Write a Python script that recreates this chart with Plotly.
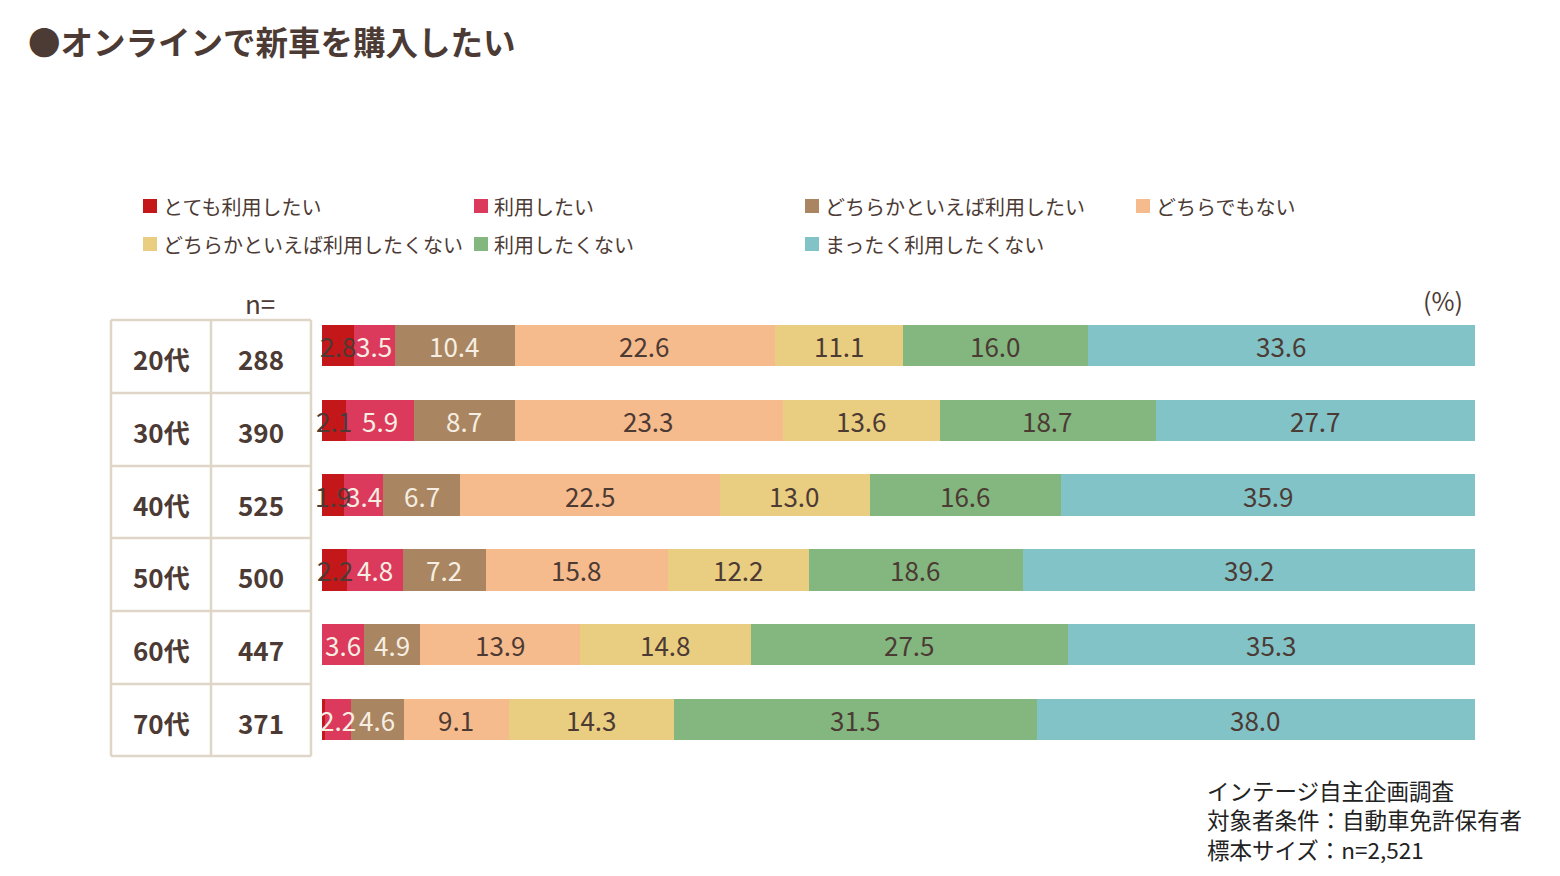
import plotly.graph_objects as go

# ---------------- data ----------------
ages = ["20代", "30代", "40代", "50代", "60代", "70代"]
n_sizes = [288, 390, 525, 500, 447, 371]
series_names = [
    "とても利用したい",
    "利用したい",
    "どちらかといえば利用したい",
    "どちらでもない",
    "どちらかといえば利用したくない",
    "利用したくない",
    "まったく利用したくない",
]
very_use = [2.8, 2.1, 1.9, 2.2, 0.0, 0.3]
use = [3.5, 5.9, 3.4, 4.8, 3.6, 2.2]
rather_use = [10.4, 8.7, 6.7, 7.2, 4.9, 4.6]
neither = [22.6, 23.3, 22.5, 15.8, 13.9, 9.1]
rather_not = [11.1, 13.6, 13.0, 12.2, 14.8, 14.3]
not_use = [16.0, 18.7, 16.6, 18.6, 27.5, 31.5]
never_use = [33.6, 27.7, 35.9, 39.2, 35.3, 38.0]
series_values = [very_use, use, rather_use, neither, rather_not, not_use, never_use]

title_text = "●オンラインで新車を購入したい"
footer_lines = ["インテージ自主企画調査", "対象者条件：自動車免許保有者", "標本サイズ：n=2,521"]

# ---------------- style ----------------
colors = ["#c3171a", "#db3a5c", "#a98661", "#f6bb8d", "#e9cd80", "#83b77f", "#82c3c7"]
DARK = "#4c3a34"
LIGHT = "#f6eee2"
label_colors = [DARK, LIGHT, LIGHT, DARK, DARK, DARK, DARK]
FONT = "Noto Sans CJK JP"

W, H = 1560, 876
L, R, T, B = 322, 85, 308, 119
PW, PH = W - L - R, H - T - B


def px2x(px):
    return (px - L) / PW


def py2y(py):
    return (H - B - py) / PH


fig = go.Figure()
for name, vals, col in zip(series_names, series_values, colors):
    fig.add_trace(go.Bar(
        y=ages, x=vals, name=name, orientation="h",
        marker=dict(color=col, line=dict(width=0)),
        width=0.551, showlegend=False, hoverinfo="x+name",
    ))

shapes = []
annotations = []

# value labels, placed on the data axes at each segment's midpoint (drawn above all bars)
cum = [0.0] * len(ages)
for vals, lc in zip(series_values, label_colors):
    for age, c, v in zip(ages, cum, vals):
        if v >= 1:
            annotations.append(dict(text=f"{v:.1f}", xref="x", yref="y", x=c + v / 2, y=age,
                                    xanchor="center", yanchor="middle", showarrow=False,
                                    yshift=0,
                                    font=dict(size=26, color=lc, family=FONT)))
    cum = [c + v for c, v in zip(cum, vals)]

# legend (custom, laid out in two rows of four columns)
leg_cols = [143, 474, 805, 1136]
leg_rows = [206, 244]
for i, (name, col) in enumerate(zip(series_names, colors)):
    cx = leg_cols[i % 4]
    cy = leg_rows[i // 4]
    shapes.append(dict(type="rect", xref="paper", yref="paper",
                       x0=px2x(cx), x1=px2x(cx + 14),
                       y0=py2y(cy + 7), y1=py2y(cy - 7),
                       fillcolor=col, line=dict(width=0)))
    annotations.append(dict(text=name, xref="paper", yref="paper",
                            x=px2x(cx + 18), y=py2y(cy), xanchor="left", yanchor="middle",
                            showarrow=False, font=dict(size=20, color=DARK, family=FONT)))

# table
tbl_x = [111, 211, 311]
tbl_y = [320, 393, 466, 538, 611, 684, 756]
BORDER = "#e0d6c8"
for yy in tbl_y:
    shapes.append(dict(type="line", xref="paper", yref="paper",
                       x0=px2x(tbl_x[0]), x1=px2x(tbl_x[-1]), y0=py2y(yy), y1=py2y(yy),
                       line=dict(color=BORDER, width=2.5)))
for xx in tbl_x:
    shapes.append(dict(type="line", xref="paper", yref="paper",
                       x0=px2x(xx), x1=px2x(xx), y0=py2y(tbl_y[0]), y1=py2y(tbl_y[-1]),
                       line=dict(color=BORDER, width=2.5)))
for i, (age, n) in enumerate(zip(ages, n_sizes)):
    cy = (tbl_y[i] + tbl_y[i + 1]) / 2 + 2
    annotations.append(dict(text=f"<b>{age}</b>", xref="paper", yref="paper",
                            x=px2x(161), y=py2y(cy), xanchor="center", yanchor="middle",
                            showarrow=False, font=dict(size=26, color=DARK, family=FONT)))
    annotations.append(dict(text=f"<b>{n}</b>", xref="paper", yref="paper",
                            x=px2x(261), y=py2y(cy), xanchor="center", yanchor="middle",
                            showarrow=False, font=dict(size=26, color=DARK, family=FONT)))

annotations.append(dict(text="n=", xref="paper", yref="paper", x=px2x(260), y=py2y(302),
                        xanchor="center", yanchor="middle", showarrow=False,
                        font=dict(size=26, color=DARK, family=FONT)))
annotations.append(dict(text="(%)", xref="paper", yref="paper", x=px2x(1465), y=py2y(300),
                        xanchor="right", yanchor="middle", showarrow=False,
                        font=dict(size=25, color=DARK, family=FONT)))

annotations.append(dict(text="<br>".join(footer_lines), xref="paper", yref="paper",
                        x=px2x(1205), y=py2y(819), xanchor="left", yanchor="middle",
                        align="left", showarrow=False,
                        font=dict(size=22.5, color="#222222", family=FONT)))

fig.update_layout(
    width=W, height=H,
    margin=dict(l=L, r=R, t=T, b=B),
    paper_bgcolor="white", plot_bgcolor="white",
    barmode="stack",
    title=dict(text=f"<b>{title_text}</b>", xref="container", yref="container",
               x=28 / W, y=1 - 44 / H, xanchor="left", yanchor="middle",
               font=dict(size=32.5, color=DARK, family=FONT)),
    xaxis=dict(range=[0, 100], visible=False, fixedrange=True),
    yaxis=dict(range=[5.5, -0.5], visible=False, fixedrange=True),
    shapes=shapes, annotations=annotations,
    font=dict(family=FONT, color=DARK),
    showlegend=False,
)

fig.write_html("out.html")
